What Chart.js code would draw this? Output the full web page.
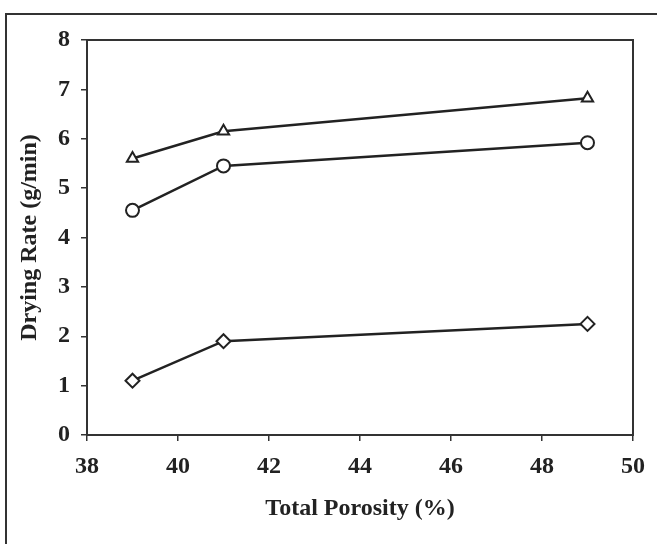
<!DOCTYPE html>
<html>
<head>
<meta charset="utf-8">
<script src="https://cdn.jsdelivr.net/npm/chart.js@4"></script>
<style>
  html, body { margin: 0; padding: 0; background: #fff; }
  #wrap { position: relative; width: 657px; height: 544px; }
  #frame { position: absolute; left: 5px; top: 13px; width: 660px; height: 540px;
           border-left: 2px solid #333; border-top: 2px solid #333; }
  canvas { position: absolute; left: 0; top: 0; }
</style>
</head>
<body>
<div id="wrap">
  <div id="frame"></div>
  <canvas id="myChart" width="657" height="544"></canvas>
</div>
<script>
const porosity = [39, 41, 49]
const rateTriangle = [5.6, 6.15, 6.82]
const rateCircle = [4.55, 5.45, 5.92]
const rateDiamond = [1.1, 1.9, 2.25]
const xTicks = [38, 40, 42, 44, 46, 48, 50]
const yTicks = [0, 1, 2, 3, 4, 5, 6, 7, 8]

const ink = '#222'
const tickFont = { family: 'Liberation Serif', size: 24, weight: 'bold' }
const titleFont = { family: 'Liberation Serif', size: 24, weight: 'bold' }

const makeSet = (values, style) => ({
    data: porosity.map((p, i) => ({ x: p, y: values[i] })),
    borderColor: ink,
    borderWidth: 2.5,
    pointStyle: style,
    pointRadius: style === 'rectRot' ? 7 : 6.5,
    pointBackgroundColor: '#fff',
    pointBorderColor: ink,
    pointBorderWidth: 2,
    tension: 0
})

// box around the plot area
const boxPlugin = {
    id: 'box',
    afterDraw(chart) {
        const { ctx, chartArea: a } = chart
        ctx.save()
        ctx.strokeStyle = '#333'
        ctx.lineWidth = 2
        ctx.strokeRect(a.left, a.top, a.right - a.left, a.bottom - a.top)
        ctx.restore()
    }
}

const config = {
    type: 'line',
    data: {
        datasets: [
            makeSet(rateTriangle, 'triangle'),
            makeSet(rateCircle, 'circle'),
            makeSet(rateDiamond, 'rectRot')
        ]
    },
    options: {
        responsive: false,
        animation: false,
        layout: { padding: { top: 40, right: 24, left: 0, bottom: 0 } },
        plugins: { legend: { display: false }, tooltip: { enabled: false } },
        scales: {
            x: {
                type: 'linear',
                min: 38,
                max: 50,
                afterBuildTicks: s => { s.ticks = xTicks.map(v => ({ value: v })) },
                afterFit: s => { s.height = 109 },
                grid: { drawOnChartArea: false, tickLength: 6, color: '#333', lineWidth: 1.5 },
                border: { display: false },
                ticks: { color: ink, font: tickFont, padding: 11, maxRotation: 0 },
                title: {
                    display: true,
                    text: 'Total Porosity (%)',
                    color: ink,
                    font: titleFont,
                    padding: { top: 4, bottom: 21 }
                }
            },
            y: {
                min: 0,
                max: 8,
                afterBuildTicks: s => { s.ticks = yTicks.map(v => ({ value: v })) },
                afterFit: s => { s.width = 87 },
                grid: { drawOnChartArea: false, tickLength: 6, color: '#333', lineWidth: 1.5 },
                border: { display: false },
                ticks: { color: ink, font: tickFont, padding: 11 },
                title: {
                    display: true,
                    text: 'Drying Rate (g/min)',
                    color: ink,
                    font: titleFont,
                    padding: { top: 15 }
                }
            }
        }
    },
    plugins: [boxPlugin]
}

const myChart = new Chart(document.getElementById('myChart'), config)
</script>
</body>
</html>
